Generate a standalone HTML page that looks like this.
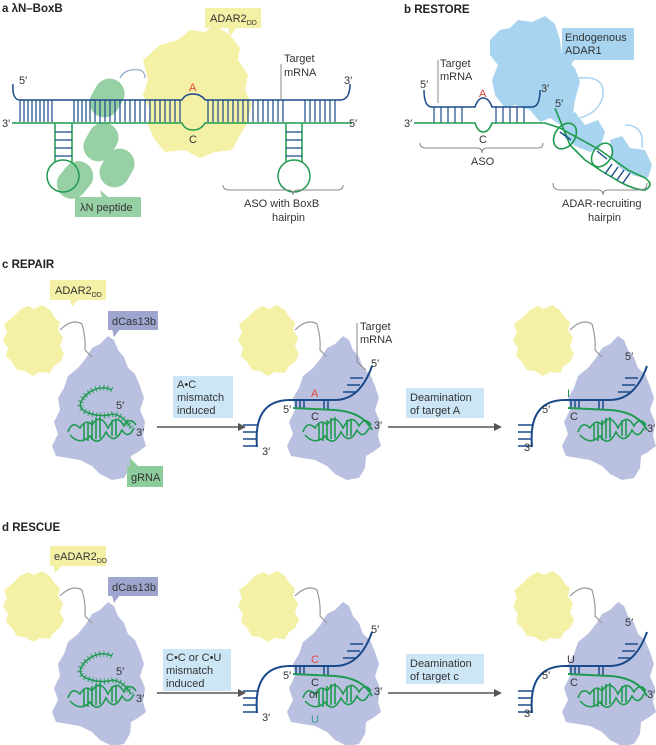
<!DOCTYPE html>
<html><head><meta charset="utf-8"><style>
html,body{margin:0;padding:0;background:#fff}
svg{display:block}
text{font-family:"Liberation Sans",sans-serif;font-size:11px;fill:#333}
.t{font-weight:bold;font-size:11.5px;fill:#222}
</style></head><body>
<svg width="656" height="745" viewBox="0 0 656 745" xmlns="http://www.w3.org/2000/svg">
<defs>
<path id="yb" d="M12,318 L20,310 L28,306 L34,309 L42,305 L50,310 L55,318 L60,322 L58,330 L63,338 L60,346 L64,354 L60,362 L54,366 L50,373 L40,372 L33,376 L25,371 L17,370 L12,362 L6,356 L8,348 L3,340 L7,332 L4,324 Z" fill="#f4f0a6"/>
<path id="pb" d="M108,336 L114,340 L118,350 L124,357 L128,368 L135,374 L140,386 L144,398 L140,410 L145,422 L143,436 L146,446 L138,452 L131,456 L130,468 L124,478 L112,480 L100,474 L92,466 L80,460 L68,458 L56,456 L52,446 L58,434 L54,422 L60,410 L58,398 L64,388 L68,376 L78,368 L86,358 L92,348 L100,344 Z" fill="#b9c0e0"/>
<g id="hx" fill="none" stroke="#1f9a4f" stroke-width="1.6">
<path d="M68,432 Q72,420 80,428 Q86,418 92,425 Q100,412 108,428 Q116,412 124,426 Q130,416 136,425"/>
<path d="M70,435 Q80,446 90,436 Q98,448 106,432 Q114,446 122,430 Q128,440 134,428"/>
<path d="M84,424 L84,440 M88,422 L88,441 M92,420 L92,440 M96,418 L96,439 M100,417 L100,438 M112,420 L112,436 M116,419 L116,436"/>
</g>
<g id="base">
<use href="#yb"/><use href="#pb"/>
<path d="M60,330 Q72,318 82,324 Q86,338 85,350 L92,357" fill="none" stroke="#999" stroke-width="1.2"/>
<use href="#hx"/>
</g>
<g id="loop" fill="none" stroke="#1f9a4f">
<path d="M112,390 Q100,384 87,394 Q74,406 86,412 Q100,418 113,414 Q124,416 131,428" stroke-width="1.6"/>
<path d="M112,390 Q100,384 87,394 Q74,406 86,412 Q100,418 113,414 Q124,416 131,428" stroke-width="6" stroke-dasharray="1 3" opacity="0.8"/>
</g>
<g id="strand" fill="none" stroke-width="2">
<path d="M22,447 Q18,400 55,400 L100,400 Q125,400 137,366" stroke="#1a4a8a"/>
<path d="M8,425 H22 M8,432 H21 M8,439 H21 M8,446 H22 M115,378 H128 M112,385 H125 M108,392 H122 M61,400 V408 M65,400 V408 M69,400 V408 M89,400 V409 M93,400 V409" stroke="#1a4a8a" stroke-width="1.5"/>
<path d="M58,408 L100,410 Q128,412 137,430" stroke="#1f9a4f"/>
</g>
</defs>

<!-- Panel a -->
<text class="t" x="2" y="12">a  λN–BoxB</text>
<path d="M143,60 L160,45 L178,40 L190,30 L205,32 L215,25 L230,35 L240,48 L238,60 L248,75 L245,90 L252,105 L246,125 L240,135 L232,150 L215,152 L200,158 L185,150 L165,152 L155,140 L148,125 L150,110 L143,95 L148,80 Z" fill="#f4f0a6"/>
<rect x="205" y="8" width="56" height="20" fill="#f4f0a6"/>
<path d="M228,28 L230,36 L236,28 Z" fill="#f4f0a6"/>
<text x="210" y="22">ADAR2<tspan font-size="7" dy="3">DD</tspan></text>
<path d="M120,78 Q125,68 140,70 Q145,72 145,78" fill="none" stroke="#8aa6c8" stroke-width="1.2"/>
<g fill="#8ccb9b" opacity="0.9">
<rect x="92" y="78" width="30" height="40" rx="15" transform="rotate(30 107 98)"/>
<rect x="86" y="122" width="30" height="40" rx="15" transform="rotate(30 101 142)"/>
<rect x="102" y="148" width="30" height="40" rx="15" transform="rotate(30 117 168)"/>
<rect x="60" y="160" width="30" height="40" rx="15" transform="rotate(40 75 180)"/>
<rect x="75" y="197" width="66" height="20"/>
<path d="M100,190 L102,198 L108,197 Z"/>
</g>
<text x="80" y="211">λN peptide</text>
<g fill="none" stroke="#1a4a8a" stroke-width="1.5">
<path d="M13,84 Q12,100 20,100 L182,100 M205,100 L340,100 Q350,100 350,84"/>
<path d="M182,100 Q185,94 193,94 Q201,94 205,100"/>
<path d="M20,100 V122 M24,100 V122 M28,100 V122 M32,100 V122 M36,100 V122 M40,100 V122 M44,100 V122 M48,100 V122 M52,100 V122 M74,100 V122 M78,100 V122 M82,100 V122 M86,100 V122 M90,100 V122 M95,100 V122 M100,100 V122 M105,100 V122 M110,100 V122 M115,100 V122 M120,100 V122 M125,100 V122 M130,100 V122 M135,100 V122 M140,100 V122 M145,100 V122 M150,100 V122 M155,100 V122 M160,100 V122 M165,100 V122 M170,100 V122 M175,100 V122 M180,100 V122 M208,100 V122 M213,100 V122 M218,100 V122 M223,100 V122 M228,100 V122 M233,100 V122 M238,100 V122 M243,100 V122 M248,100 V122 M253,100 V122 M258,100 V122 M263,100 V122 M268,100 V122 M273,100 V122 M278,100 V122 M283,100 V122 M305,100 V122 M310,100 V122 M315,100 V122 M320,100 V122 M325,100 V122 M330,100 V122 M335,100 V122" stroke-width="1.2"/>
</g>
<g fill="none" stroke="#1f9a4f" stroke-width="1.5">
<path d="M12,123 L182,123 Q185,130 193,130 Q201,130 205,123 L352,123"/>
<path d="M55,123 V162 M72,123 V162 M286,123 V162 M302,123 V162"/>
<path d="M55,132 H72 M55,140 H72 M55,148 H72 M55,156 H72 M286,132 H302 M286,140 H302 M286,148 H302 M286,156 H302" stroke="#1a4a8a" stroke-width="1.2"/>
<circle cx="63" cy="176" r="16"/><circle cx="294" cy="176" r="16"/>
</g>
<path d="M281,64 V100" stroke="#888" stroke-width="1"/>
<text x="284" y="62">Target</text><text x="284" y="76">mRNA</text>
<text x="19" y="84">5′</text><text x="344" y="84">3′</text>
<text x="2" y="127">3′</text><text x="349" y="127">5′</text>
<text x="189" y="91" style="fill:#e04a3a">A</text>
<text x="189" y="143">C</text>
<path d="M223,185 Q223,190 230,190 L288,190 Q293,190 293,195 Q293,190 298,190 L337,190 Q343,190 343,185" fill="none" stroke="#888"/>
<text x="244" y="207">ASO with BoxB</text><text x="272" y="221">hairpin</text>

<!-- Panel b -->
<text class="t" x="404" y="13">b  RESTORE</text>
<path d="M490,40 L500,30 L510,28 L518,20 L532,22 L545,16 L555,24 L560,40 L562,55 L575,68 L580,82 L575,100 L572,120 L560,125 L550,118 L540,122 L530,110 L515,105 L505,108 L495,95 L492,80 L498,65 L490,55 Z" fill="#a8d4f0"/>
<path d="M560,118 L575,112 L585,125 L598,120 L605,132 L600,148 L590,152 L575,146 L565,138 Z M610,140 L622,136 L630,148 L645,150 L652,165 L648,178 L635,176 L620,168 L612,158 Z" fill="#a8d4f0"/>
<path d="M578,78 Q605,75 603,95 Q600,112 580,118 M625,125 Q645,125 642,148" fill="none" stroke="#a8d4f0" stroke-width="1.5"/>
<rect x="562" y="28" width="72" height="32" fill="#a8d4f0"/>
<path d="M567,58 L568,68 L576,58 Z" fill="#a8d4f0"/>
<text x="565" y="41">Endogenous</text><text x="565" y="54">ADAR1</text>
<g fill="none" stroke="#1a4a8a" stroke-width="1.5">
<path d="M424,90 Q424,107 432,107 L475,107 Q478,98 483,98 Q489,98 492,107 L532,107 Q540,107 540,90"/>
<path d="M434,107 V123 M441,107 V123 M448,107 V123 M455,107 V123 M462,107 V123 M496,107 V123 M503,107 V123 M510,107 V123 M517,107 V123 M524,107 V123" stroke-width="1.2"/>
</g>
<g fill="none" stroke="#1f9a4f" stroke-width="1.6">
<path d="M414,123 L475,123 Q478,132 483,132 Q489,132 492,123 L545,123 L560,128 L600,150 L628,170 L645,178 Q655,185 645,190 Q635,190 620,182 L600,170 L585,160 L570,145 L555,108"/>
<ellipse cx="565" cy="136" rx="10" ry="14" transform="rotate(35 565 136)"/>
<ellipse cx="602" cy="155" rx="9" ry="13" transform="rotate(35 602 155)"/>
<path d="M612,164 L605,174 M618,167 L611,177 M624,170 L617,180 M630,173 L623,183 M560,132 L571,140 M597,151 L607,159" stroke="#1a4a8a" stroke-width="1.4"/>
</g>
<path d="M438,60 V103" stroke="#888"/>
<text x="440" y="67">Target</text><text x="440" y="80">mRNA</text>
<text x="420" y="88">5′</text><text x="541" y="92">3′</text><text x="404" y="127">3′</text><text x="555" y="107">5′</text>
<text x="479" y="97" style="fill:#e04a3a">A</text><text x="479" y="143">C</text>
<path d="M420,143 Q420,148 426,148 L477,148 Q482,148 482,153 Q482,148 487,148 L538,148 Q543,148 543,143" fill="none" stroke="#888"/>
<text x="471" y="165">ASO</text>
<path d="M553,183 Q553,190 560,190 L598,190 Q603,190 603,195 Q603,190 608,190 L640,190 Q647,190 647,183" fill="none" stroke="#888"/>
<text x="562" y="207">ADAR-recruiting</text><text x="588" y="221">hairpin</text>

<!-- Panel c -->
<text class="t" x="2" y="268">c  REPAIR</text>
<g>
<use href="#base"/><use href="#loop"/>
<rect x="50" y="280" width="56" height="20" fill="#f4f0a6"/><path d="M70,300 L72,307 L78,300 Z" fill="#f4f0a6"/>
<text x="55" y="294">ADAR2<tspan font-size="7" dy="3">DD</tspan></text>
<rect x="108" y="311" width="50" height="19" fill="#9ea6d0"/><path d="M112,329 L114,337 L120,329 Z" fill="#9ea6d0"/>
<text x="112" y="325">dCas13b</text>
<rect x="127" y="466" width="36" height="21" fill="#8ccb9b"/><path d="M130,466 L130,458 L138,466 Z" fill="#8ccb9b"/>
<text x="131" y="481">gRNA</text>
<text x="116" y="409">5′</text><text x="136" y="436">3′</text>
</g>
<rect x="173" y="376" width="60" height="42" fill="#cce6f5"/>
<text x="177" y="388">A•C</text><text x="177" y="401">mismatch</text><text x="177" y="414">induced</text>
<path d="M157,427 H240" stroke="#555" stroke-width="1.5"/><path d="M246,427 L238,423 L238,431 Z" fill="#555"/>
<g transform="translate(235,0)"><use href="#base"/><use href="#strand"/></g>
<path d="M357,323 V362 L366,370" fill="none" stroke="#888"/>
<text x="360" y="330">Target</text><text x="360" y="343">mRNA</text>
<text x="371" y="367">5′</text><text x="283" y="413">5′</text><text x="262" y="455">3′</text><text x="374" y="429">3′</text>
<text x="311" y="397" style="fill:#e04a3a">A</text><text x="311" y="420">C</text>
<rect x="406" y="388" width="78" height="30" fill="#cce6f5"/>
<text x="410" y="401">Deamination</text><text x="410" y="414">of target A</text>
<path d="M388,427 H495" stroke="#555" stroke-width="1.5"/><path d="M502,427 L494,423 L494,431 Z" fill="#555"/>
<g transform="translate(510,0)"><use href="#base"/><use href="#strand"/></g>
<text x="625" y="360">5′</text><text x="542" y="413">5′</text><text x="524" y="451">3′</text><text x="647" y="432">3′</text>
<text x="567" y="397" style="fill:#1f9a4f">I</text><text x="570" y="420">C</text>

<!-- Panel d -->
<text class="t" x="2" y="531">d  RESCUE</text>
<g transform="translate(0,266)">
<use href="#base"/><use href="#loop"/>
<rect x="50" y="280" width="56" height="20" fill="#f4f0a6"/><path d="M54,300 L55,307 L62,300 Z" fill="#f4f0a6"/>
<text x="54" y="294">eADAR2<tspan font-size="7" dy="3">DD</tspan></text>
<rect x="108" y="311" width="50" height="19" fill="#9ea6d0"/><path d="M112,329 L114,337 L120,329 Z" fill="#9ea6d0"/>
<text x="112" y="325">dCas13b</text>
<text x="116" y="409">5′</text><text x="136" y="436">3′</text>
<rect x="163" y="383" width="68" height="42" fill="#cce6f5"/>
<text x="166" y="395">C•C or C•U</text><text x="166" y="408">mismatch</text><text x="166" y="421">induced</text>
<path d="M157,427 H240" stroke="#555" stroke-width="1.5"/><path d="M246,427 L238,423 L238,431 Z" fill="#555"/>
<g transform="translate(235,0)"><use href="#base"/><use href="#strand"/></g>
<text x="371" y="367">5′</text><text x="283" y="413">5′</text><text x="262" y="455">3′</text><text x="374" y="429">3′</text>
<text x="311" y="397" style="fill:#e04a3a">C</text><text x="311" y="420">C</text><text x="309" y="432">or</text><text x="311" y="457" style="fill:#3a9a8a">U</text>
<rect x="406" y="388" width="78" height="30" fill="#cce6f5"/>
<text x="410" y="401">Deamination</text><text x="410" y="414">of target c</text>
<path d="M388,427 H495" stroke="#555" stroke-width="1.5"/><path d="M502,427 L494,423 L494,431 Z" fill="#555"/>
<g transform="translate(510,0)"><use href="#base"/><use href="#strand"/></g>
<text x="625" y="360">5′</text><text x="542" y="413">5′</text><text x="524" y="451">3′</text><text x="647" y="432">3′</text>
<text x="567" y="397">U</text><text x="570" y="420">C</text>
</g>
</svg>
</body></html>
